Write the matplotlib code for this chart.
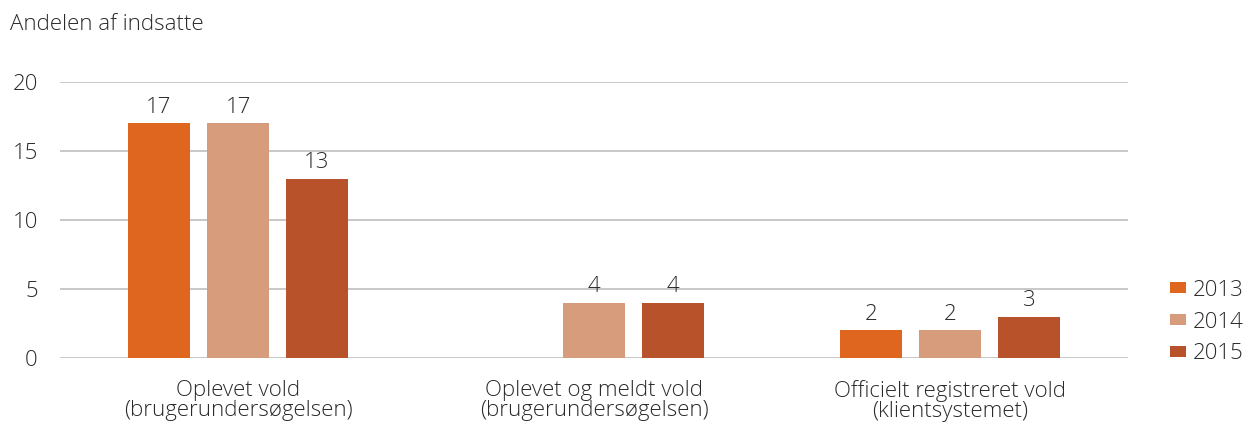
import matplotlib
matplotlib.use("Agg")
import matplotlib.pyplot as plt
import numpy as np

categories = ["Oplevet vold\n(brugerundersøgelsen)",
              "Oplevet og meldt vold\n(brugerundersøgelsen)",
              "Officielt registreret vold\n(klientsystemet)"]
series = ["2013", "2014", "2015"]
values_2013 = [17, None, 2]
values_2014 = [17, 4, 2]
values_2015 = [13, 4, 3]
colors = ["#DE661F", "#D69C7C", "#B8522B"]
yticks = [0, 5, 10, 15, 20]

plt.rcParams['font.family'] = ['Open Sans', 'DejaVu Sans']
txtcol = "#2a2a2a"
fs = 16
fw = "light"

fig = plt.figure(figsize=(12.45, 4.23), dpi=100)
ax = fig.add_axes([60/1245, 1-358/423, (1128-60)/1245, (358-82)/423])

x = np.arange(len(categories))
w = 0.174
off = 0.222
allvals = [values_2013, values_2014, values_2015]
for i, (vals, c, s) in enumerate(zip(allvals, colors, series)):
    xs = [xi + (i-1)*off for xi, v in zip(x, vals) if v is not None]
    vs = [v for v in vals if v is not None]
    bars = ax.bar(xs, vs, width=w, color=c, label=s, zorder=3)
    for b, v in zip(bars, vs):
        ax.annotate(f"{v}", (b.get_x()+b.get_width()/2, v), xytext=(0, 4),
                    textcoords="offset points", ha="center", va="bottom",
                    fontsize=fs, color=txtcol, fontweight=fw)

ax.set_xlim(-0.5, 2.5)
ax.set_ylim(0, 20)
ax.set_yticks(yticks)
ax.set_yticklabels([str(t) for t in yticks], fontsize=fs, color=txtcol, fontweight=fw)
ax.yaxis.grid(True, color="#bfbfbf", linewidth=1.2, zorder=0)
ax.set_axisbelow(True)
ax.tick_params(axis="y", length=0, pad=16)
ax.set_xticks(x)
ax.set_xticklabels(categories, fontsize=fs, color=txtcol, linespacing=0.92, fontweight=fw)
ax.tick_params(axis="x", length=0, pad=16)
for sp in ax.spines.values():
    sp.set_visible(False)

fig.text(10/1245, 1-25/423, "Andelen af indsatte", fontsize=fs, color=txtcol,
         va="center", ha="left", fontweight=fw)

leg = ax.legend(loc="center left", bbox_to_anchor=(1170/1245, 1-322/423),
                bbox_transform=fig.transFigure, frameon=False, fontsize=fs,
                handlelength=0.72, handleheight=0.4, handletextpad=0.3,
                labelspacing=0.49, borderpad=0, borderaxespad=0)
for t in leg.get_texts():
    t.set_color(txtcol)
    t.set_fontweight(fw)

fig.savefig("out.png", dpi=100)
